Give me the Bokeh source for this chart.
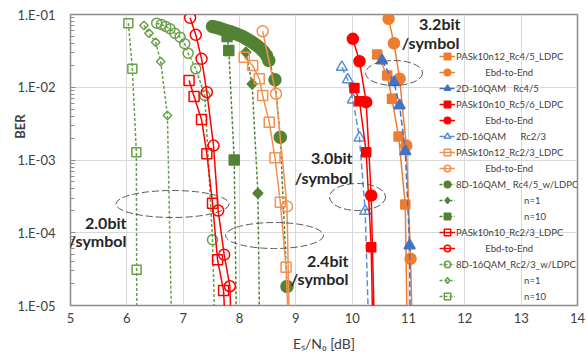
import math
from bokeh.plotting import figure
from bokeh.models import (Range1d, FixedTicker, CustomJSTickFormatter, Legend,
                          LegendItem, Label, LogAxis)
from bokeh.embed import file_html
from bokeh.resources import INLINE

FONT = "Lato"

# ---------------- data (Es/N0 [dB], BER) ----------------
# 2D-16QAM / PAS, Rc4/5 group (~3.2 bit/symbol)
pas12_rc45_x = [10.445, 10.623, 10.706, 10.824, 10.943, 10.98]
pas12_rc45_y = [0.0282, 0.0145, 6.93e-3, 2.10e-3, 2.44e-4, 3.2e-6]
e2e12_rc45_x = [10.646, 10.742, 10.842, 10.961, 11.037, 11.07]
e2e12_rc45_y = [0.0873, 0.0402, 0.0131, 1.58e-3, 4.39e-5, 3.2e-6]
qam2d_rc45_x = [10.529, 10.742, 10.842, 10.943, 11.020, 11.03]
qam2d_rc45_y = [0.0233, 0.0117, 5.61e-3, 1.32e-3, 6.68e-5, 3.2e-6]
# PAS k10 n10 Rc5/6 group (~3.0 bit/symbol)
pas10_rc56_x = [10.041, 10.130, 10.249, 10.338, 10.37]
pas10_rc56_y = [9.8e-3, 6.43e-3, 1.28e-3, 6.34e-5, 3.2e-6]
e2e10_rc56_x = [10.012, 10.130, 10.249, 10.338, 10.40]
e2e10_rc56_y = [0.0463, 0.0228, 6.24e-3, 3.25e-4, 3.2e-6]
qam2d_rc23_x = [9.817, 9.923, 10.012, 10.130, 10.231, 10.30]
qam2d_rc23_y = [0.0189, 0.0127, 6.72e-3, 2.02e-3, 1.98e-4, 3.2e-6]
# PAS k10 n12 Rc2/3 group (~2.4 bit/symbol)
pas12_rc23_x = [8.084, 8.233, 8.351, 8.411, 8.528, 8.630, 8.724, 8.826, 8.88]
pas12_rc23_y = [0.0259, 0.0199, 0.0131, 7.71e-3, 3.31e-3, 1.07e-3, 2.63e-4, 3.36e-5, 3.2e-6]
e2e12_rc23_x = [8.411, 8.648, 8.843, 8.89]
e2e12_rc23_y = [0.0589, 8.13e-3, 2.30e-4, 3.2e-6]
qam8d_rc45_x = [7.521, 7.574, 7.627, 7.680, 7.734, 7.787, 7.840, 7.894, 7.947, 8.000,
                8.053, 8.107, 8.160, 8.213, 8.266, 8.320, 8.373, 8.426, 8.479, 8.520,
                8.630, 8.724, 8.843]
qam8d_rc45_y = [0.0684, 0.0669, 0.0652, 0.0634, 0.0614, 0.0595, 0.0577, 0.0559, 0.0540, 0.0520,
                0.0498, 0.0472, 0.0446, 0.0421, 0.0397, 0.0369, 0.0341, 0.0310, 0.0273, 0.0233,
                0.0127, 2.06e-3, 1.82e-5]
qam8d_rc45_n1_x = [8.114, 8.224, 8.327, 8.36]
qam8d_rc45_n1_y = [0.0303, 0.0111, 3.5e-4, 3.2e-6]
qam8d_rc45_n10_x = [7.78, 7.810, 7.906, 7.95]
qam8d_rc45_n10_y = [0.0499, 0.0320, 1.0e-3, 3.2e-6]
# PAS k10 n10 Rc2/3 group (~2.0 bit/symbol)
pas10_rc23_x = [7.105, 7.194, 7.326, 7.420, 7.521, 7.610, 7.717, 7.76]
pas10_rc23_y = [0.0124, 7.46e-3, 3.6e-3, 1.22e-3, 2.55e-4, 4.25e-5, 1.61e-5, 3.2e-6]
e2e10_rc23_x = [7.123, 7.224, 7.326, 7.420, 7.539, 7.621, 7.728, 7.829, 7.86]
e2e10_rc23_y = [0.0901, 0.0526, 0.0246, 8.55e-3, 1.58e-3, 2.02e-4, 5.0e-5, 1.84e-5, 3.2e-6]
qam8d_rc23_x = [6.530, 6.613, 6.690, 6.767, 6.851, 6.945, 7.028, 7.088, 7.224, 7.384, 7.521, 7.57]
qam8d_rc23_y = [0.0760, 0.0729, 0.0684, 0.0636, 0.0553, 0.0488, 0.0396, 0.0294, 0.0179,
                7.7e-3, 8.0e-5, 3.2e-6]
qam8d_rc23_n1_x = [6.304, 6.393, 6.512, 6.601, 6.721, 6.80]
qam8d_rc23_n1_y = [0.0706, 0.0553, 0.0416, 0.0226, 4.09e-3, 3.2e-6]
qam8d_rc23_n10_x = [6.027, 6.098, 6.169, 6.174, 6.18]
qam8d_rc23_n10_y = [0.0760, 0.0179, 1.28e-3, 3.1e-5, 3.2e-6]

x_ticks = [5, 6, 7, 8, 9, 10, 11, 12, 13, 14]
y_ticks = [1e-5, 1e-4, 1e-3, 1e-2, 1e-1]
x_title = "E\u209b/N\u2080 [dB]"
y_title = "BER"

NB = "\u00a0"
legend_labels = [
    "PASk10n12_Rc4/5_LDPC",
    NB * 12 + "Ebd-to-End",
    "2D-16QAM" + NB * 3 + "Rc4/5",
    "PASk10n10_Rc5/6_LDPC",
    NB * 12 + "Ebd-to-End",
    "2D-16QAM" + NB * 6 + "Rc2/3",
    "PASk10n12_Rc2/3_LDPC",
    NB * 12 + "Ebd-to-End",
    "8D-16QAM_" + NB + "Rc4/5_w/LDPC",
    NB * 28 + "n=1",
    NB * 28 + "n=10",
    "PASk10n10_Rc2/3_LDPC",
    NB * 12 + "Ebd-to-End",
    "8D-16QAM_Rc2/3_w/LDPC",
    NB * 28 + "n=1",
    NB * 28 + "n=10",
]

ORANGE = "#ED7D31"
ORANGE_L = "#F39150"
RED = "#FF0000"
BLUE = "#4472C4"
BLUE_L = "#5B8FD6"
GREEN = "#548235"
GREEN_L = "#6A9F4A"

# series table: (x, y, color, marker, filled, dash, size) in legend order
series = [
    (pas12_rc45_x, pas12_rc45_y, ORANGE, "square", True, "solid", 9),
    (e2e12_rc45_x, e2e12_rc45_y, ORANGE, "circle", True, "solid", 11),
    (qam2d_rc45_x, qam2d_rc45_y, BLUE, "triangle", True, "6 3", 11),
    (pas10_rc56_x, pas10_rc56_y, RED, "square", True, "solid", 9),
    (e2e10_rc56_x, e2e10_rc56_y, RED, "circle", True, "solid", 11),
    (qam2d_rc23_x, qam2d_rc23_y, BLUE_L, "triangle", False, "6 3", 11),
    (pas12_rc23_x, pas12_rc23_y, ORANGE_L, "square", False, "solid", 10),
    (e2e12_rc23_x, e2e12_rc23_y, ORANGE_L, "circle", False, "solid", 11),
    (qam8d_rc45_x, qam8d_rc45_y, GREEN, "circle", True, "3 2", 12),
    (qam8d_rc45_n1_x, qam8d_rc45_n1_y, GREEN, "diamond", True, "3 2", 7),
    (qam8d_rc45_n10_x, qam8d_rc45_n10_y, GREEN, "square", True, "3 2", 10),
    (pas10_rc23_x, pas10_rc23_y, RED, "square", False, "solid", 10),
    (e2e10_rc23_x, e2e10_rc23_y, RED, "circle", False, "solid", 11),
    (qam8d_rc23_x, qam8d_rc23_y, GREEN_L, "circle", False, "3 2", 10),
    (qam8d_rc23_n1_x, qam8d_rc23_n1_y, GREEN_L, "diamond", False, "3 2", 6),
    (qam8d_rc23_n10_x, qam8d_rc23_n10_y, GREEN_L, "square", False, "3 2", 9),
]
draw_order = [13, 14, 15, 8, 9, 10, 6, 7, 11, 12, 0, 1, 2, 5, 3, 4]

# ---------------- figure ----------------
p = figure(width=587, height=362, x_range=Range1d(5, 14), y_range=Range1d(1e-5, 1e-1),
           y_axis_type="log", output_backend="svg", toolbar_location=None,
           min_border_left=70, min_border_right=10, min_border_top=14, min_border_bottom=57,
           background_fill_color="white", border_fill_color="white")
p.outline_line_color = "#8c8c8c"
p.outline_line_width = 1.5

p.xaxis.ticker = FixedTicker(ticks=x_ticks)
minor = [m * d for d in [1e-5, 1e-4, 1e-3, 1e-2] for m in range(2, 10)]
p.yaxis.ticker = FixedTicker(ticks=y_ticks, minor_ticks=minor)
p.yaxis.formatter = CustomJSTickFormatter(
    code="const e = Math.round(-Math.log10(tick)); return '1.E-' + (e < 10 ? '0' + e : String(e));")

for ax in (p.xaxis[0], p.yaxis[0]):
    ax.axis_line_color = None
    ax.major_tick_out = 0
    ax.minor_tick_out = 0
    ax.major_label_text_font = FONT
    ax.major_label_text_font_size = "13px"
    ax.major_label_text_color = "#404040"
p.xaxis.major_tick_in = 0
p.xaxis.minor_tick_in = 0
p.xaxis.major_label_standoff = 7
p.xaxis.axis_label = x_title
p.xaxis.axis_label_text_font = FONT
p.xaxis.axis_label_text_font_size = "14px"
p.xaxis.axis_label_text_font_style = "normal"
p.xaxis.axis_label_text_color = "#404040"
p.xaxis.axis_label_standoff = 9
p.yaxis.major_tick_in = 5
p.yaxis.minor_tick_in = 4
p.yaxis.major_tick_line_color = "#8c8c8c"
p.yaxis.minor_tick_line_color = "#8c8c8c"
p.yaxis.major_label_standoff = 15

# y title as a second left axis carrying a single label, pulled over the tick-label column
FRAME_L, FRAME_R, FRAME_T, FRAME_B = 70, 577, 14, 305


def px2x(px):
    return 5 + (px - FRAME_L) * 9 / (FRAME_R - FRAME_L)


def px2y(py):
    return 10 ** (-1 - (py - FRAME_T) * 4 / (FRAME_B - FRAME_T))


ber_axis = LogAxis(ticker=FixedTicker(ticks=[px2y(126)]),
                   formatter=CustomJSTickFormatter(code="return '%s';" % y_title),
                   major_label_orientation="vertical", major_tick_in=0, major_tick_out=0,
                   minor_tick_in=0, minor_tick_out=0, axis_line_color=None,
                   major_label_standoff=-13, major_label_text_font=FONT,
                   major_label_text_font_size="13px", major_label_text_font_style="bold",
                   major_label_text_color="#404040")
p.add_layout(ber_axis, "left")

p.xgrid.grid_line_color = "#d9d9d9"
p.ygrid.grid_line_color = "#d9d9d9"
p.xgrid.ticker = FixedTicker(ticks=x_ticks)
p.ygrid.ticker = FixedTicker(ticks=y_ticks)

NAN = float("nan")
renderers = {}
for i in draw_order:
    x, y, c, mk, filled, dash, sz = series[i]
    lr = p.line(x, y, line_color=c, line_width=1.5, line_dash=dash)
    fill = dict(fill_color=c if filled else None, fill_alpha=1.0 if filled else 0.0)
    if mk == "diamond":
        # equal-sided diamond in the plot (rotated square); legend uses the diamond marker
        p.scatter(x, y, marker="square", size=sz, angle=math.pi / 4, line_color=c,
                  line_width=1.5, **fill)
        lg = p.scatter([NAN], [NAN], marker="diamond", size=sz, line_color=c,
                       line_width=1.5, **fill)
        renderers[i] = [lr, lg]
    else:
        sr = p.scatter(x, y, marker=mk, size=sz, line_color=c, line_width=1.5, **fill)
        renderers[i] = [lr, sr]

# ---------------- annotations ----------------
ell_cx = [172, 274, 357, 393.5]
ell_cy = [203.5, 235, 196.5, 72.5]
ell_w = [113, 98, 56, 57]
ell_h = [27, 26, 27, 25]
p.ellipse(x=[px2x(v) for v in ell_cx], y=[px2y(v) for v in ell_cy], width=ell_w, height=ell_h,
          width_units="screen", height_units="screen", fill_color=None,
          line_color="#595959", line_width=1, line_dash="7 3")

ann_text = ["3.2bit", "/symbol", "3.0bit", "/symbol", "2.4bit", "/symbol", "2.0bit", "/symbol"]
ann_px = [460, 459, 352, 352, 348, 348, 126, 126]
ann_py = [23, 42, 156.7, 176.7, 260, 278.3, 221.7, 240]
for t, ax_, ay_ in zip(ann_text, ann_px, ann_py):
    p.add_layout(Label(x=px2x(ax_), y=px2y(ay_), text=t, text_align="right",
                       text_baseline="middle", text_font=FONT, text_font_size="16px",
                       text_font_style="bold", text_color="#262626"))

# ---------------- legend ----------------
items = [LegendItem(label=legend_labels[i], renderers=renderers[i], index=0)
         for i in range(len(series))]
legend = Legend(items=items, location=(369, 1), padding=0, margin=0, spacing=0,
                glyph_width=16, glyph_height=16, label_height=16, label_standoff=1,
                label_text_font=FONT, label_text_font_size="9.5px", label_text_color="#404040",
                background_fill_alpha=0.0, border_line_color=None)
p.add_layout(legend)

open("out.html", "w").write(file_html(p, INLINE))
